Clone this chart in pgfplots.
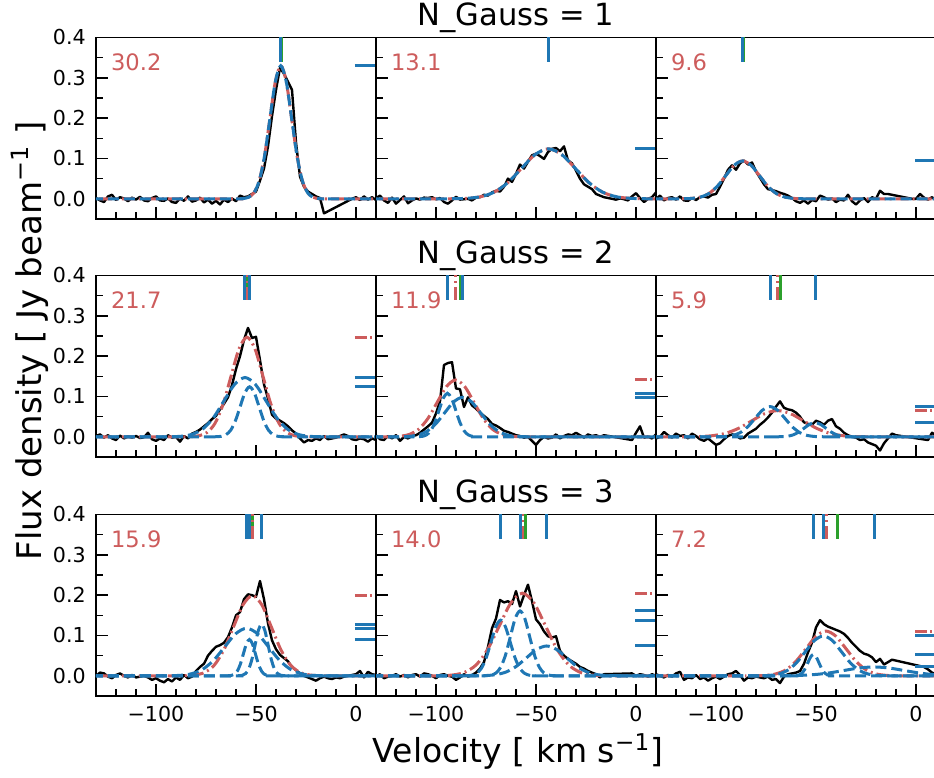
\documentclass[border=0pt]{standalone}
\usepackage{fontspec}
\setmainfont{DejaVu Sans}
\usepackage{pgfplots}
\pgfplotsset{compat=1.18}
\definecolor{tabblue}{HTML}{1F77B4}
\definecolor{indred}{HTML}{CD5C5C}
\definecolor{tabgreen}{HTML}{2CA02C}

\pgfplotsset{
  panel/.style={
    scale only axis, width=140pt, height=90.75pt, anchor=north west,
    xmin=-130, xmax=10, ymin=-0.05, ymax=0.4,
    axis line style={line width=0.9pt},
    xtick={-100,-50,0}, ytick={0,0.1,0.2,0.3,0.4},
    minor xtick={-120,-110,...,10}, minor ytick={-0.05,0.05,0.15,0.25,0.35},
    xtick pos=bottom, ytick pos=left, tick align=inside,
    major tick length=6pt, minor tick length=3.5pt,
    every tick/.style={black, line width=0.8pt},
    xticklabels={}, yticklabels={},
    tick label style={font=\fontsize{10.3}{12}\selectfont},
    xticklabel shift=1.6pt, yticklabel shift=1.6pt,
  },
  xlab/.style={xticklabels={−100,−50,0}},
  ylab/.style={yticklabels={0.0,0.1,0.2,0.3,0.4}},
  spec/.style={black, line width=1.2pt, mark=none, line join=round},
  tot/.style={indred, line width=1.5pt, mark=none, smooth, dash pattern=on 6.5pt off 2pt on 1pt off 2pt},
  comp/.style={tabblue, line width=1.5pt, mark=none, smooth, dash pattern=on 5.5pt off 2.5pt},
  vb/.style={tabblue, line width=1.5pt, mark=none, unbounded coords=jump},
  vr/.style={indred, line width=1.5pt, mark=none, unbounded coords=jump, dash pattern=on 6.5pt off 2pt on 1pt off 2pt},
  vg/.style={tabgreen, line width=1.5pt, mark=none, unbounded coords=jump},
  hb/.style={tabblue, line width=1.5pt, mark=none, unbounded coords=jump},
  hr/.style={indred, line width=1.5pt, mark=none, unbounded coords=jump, dash pattern=on 6pt off 1.5pt on 1pt off 1.5pt},
}
\newcommand\snr[1]{\node[indred, anchor=west, inner sep=0pt, font=\fontsize{11.3}{13}\selectfont] at (rel axis cs:0.0525,0.863) {#1};}

\begin{document}
\begin{tikzpicture}
\clip (0,0) rectangle (467pt,389pt);

% ---------------- row 1 ----------------
\begin{axis}[panel, ylab, at={(48pt,370.25pt)}]
\addplot[spec] coordinates {(-130,0.002) (-128,-0.004) (-126,-0.008) (-124,0.006) (-122,0.010) (-120,-0.003) (-118,0.004) (-116,0.001) (-114,-0.006) (-112,0.003) (-110,-0.002) (-108,0.005) (-106,-0.004) (-104,-0.006) (-102,0.002) (-100,0.006) (-98,-0.004) (-96,-0.005) (-94,0.001) (-92,-0.008) (-90,-0.010) (-88,0.001) (-86,-0.005) (-84,0.006) (-82,-0.007) (-80,-0.004) (-78,0.003) (-76,-0.009) (-74,-0.002) (-72,-0.012) (-70,-0.005) (-68,-0.014) (-66,-0.002) (-64,-0.008) (-62,0.001) (-60,-0.006) (-58,0.008) (-56,0.004) (-54,0.006) (-52,0.012) (-50,0.018) (-48,0.045) (-46,0.075) (-44,0.13) (-42,0.205) (-40,0.27) (-38,0.325) (-36,0.31) (-34,0.29) (-32,0.27) (-30,0.14) (-28,0.055) (-26,0.03) (-24,0.018) (-22,0.012) (-20,0.006) (-18,0.002) (-16,-0.036) (-2,0.0) (0,0.004) (2,-0.003) (4,0.006) (6,-0.002) (8,0.004) (10,-0.003)};
\addplot[tot] coordinates {(-140,0) (-61.9,0) (-59.2,0) (-56.5,0.0007) (-53.8,0.0037) (-51.1,0.0145) (-48.4,0.0446) (-45.7,0.1072) (-43.0,0.2001) (-40.3,0.2912) (-37.6,0.33) (-34.9,0.2912) (-32.2,0.2001) (-29.5,0.1072) (-26.8,0.0446) (-24.1,0.0145) (-21.4,0.0037) (-18.7,0.0007) (-16.0,0) (-13.3,0) (40,0)};
\addplot[comp] coordinates {(-140,0) (-61.9,0) (-59.2,0) (-56.5,0.0007) (-53.8,0.0037) (-51.1,0.0145) (-48.4,0.0446) (-45.7,0.1072) (-43.0,0.2001) (-40.3,0.2912) (-37.6,0.33) (-34.9,0.2912) (-32.2,0.2001) (-29.5,0.1072) (-26.8,0.0446) (-24.1,0.0145) (-21.4,0.0037) (-18.7,0.0007) (-16.0,0) (-13.3,0) (40,0)};
\addplot[vg] coordinates {(-37.0,0.34) (-37.0,0.45)};
\addplot[vr] coordinates {(-37.6,0.34) (-37.6,0.45)};
\addplot[vb] coordinates {(-37.6,0.34) (-37.6,0.45)};
\addplot[hr] coordinates {(-0.5,0.33) (15,0.33)};
\addplot[hb] coordinates {(-0.5,0.33) (15,0.33)};
\snr{30.2}
\end{axis}

\begin{axis}[panel, at={(188pt,370.25pt)}]
\addplot[spec] coordinates {(-130,0.002) (-128,0.008) (-126,-0.004) (-124,-0.010) (-122,0.003) (-120,-0.012) (-118,-0.003) (-116,0.006) (-114,-0.011) (-112,-0.004) (-110,0.001) (-108,-0.002) (-106,0.003) (-104,0.002) (-102,0.004) (-100,-0.001) (-98,0.002) (-96,-0.008) (-94,-0.012) (-92,-0.004) (-90,0.005) (-88,-0.002) (-86,-0.001) (-84,0.000) (-82,-0.004) (-80,0.003) (-78,0.004) (-76,0.010) (-74,0.008) (-72,0.016) (-70,0.020) (-68,0.018) (-66,0.030) (-64,0.050) (-62,0.042) (-60,0.062) (-58,0.085) (-56,0.075) (-54,0.092) (-52,0.108) (-50,0.112) (-48,0.106) (-46,0.099) (-44,0.116) (-42,0.124) (-40,0.126) (-38,0.118) (-36,0.130) (-34,0.095) (-32,0.088) (-30,0.070) (-28,0.050) (-26,0.036) (-24,0.030) (-22,0.024) (-20,0.012) (-18,0.008) (-16,0.004) (-14,0.002) (-12,0.000) (-10,-0.002) (-8,0.001) (-6,-0.001) (-4,-0.004) (-2,0.006) (0,0.014) (2,0.002) (4,-0.008) (6,0.000) (8,0.004) (10,0.016)};
\addplot[tot] coordinates {(-140,0) (-104.55,0) (-97.8,0) (-91.05,0.0003) (-84.3,0.0014) (-77.55,0.0054) (-70.8,0.0168) (-64.05,0.0403) (-57.3,0.0752) (-50.55,0.1094) (-43.8,0.124) (-37.05,0.1094) (-30.3,0.0752) (-23.55,0.0403) (-16.8,0.0168) (-10.05,0.0054) (-3.3,0.0014) (3.45,0.0003) (10.2,0) (16.95,0) (40,0)};
\addplot[comp] coordinates {(-140,0) (-104.55,0) (-97.8,0) (-91.05,0.0003) (-84.3,0.0014) (-77.55,0.0054) (-70.8,0.0168) (-64.05,0.0403) (-57.3,0.0752) (-50.55,0.1094) (-43.8,0.124) (-37.05,0.1094) (-30.3,0.0752) (-23.55,0.0403) (-16.8,0.0168) (-10.05,0.0054) (-3.3,0.0014) (3.45,0.0003) (10.2,0) (16.95,0) (40,0)};
\addplot[vg] coordinates {(-43.8,0.34) (-43.8,0.45)};
\addplot[vr] coordinates {(-43.8,0.34) (-43.8,0.45)};
\addplot[vb] coordinates {(-43.8,0.34) (-43.8,0.45)};
\addplot[hr] coordinates {(-0.5,0.124) (15,0.124)};
\addplot[hb] coordinates {(-0.5,0.124) (15,0.124)};
\snr{13.1}
\end{axis}

\begin{axis}[panel, at={(328pt,370.25pt)}]
\addplot[spec] coordinates {(-130,0.000) (-128,0.008) (-126,-0.004) (-124,0.002) (-122,0.004) (-120,-0.002) (-118,0.006) (-116,-0.004) (-114,-0.005) (-112,0.002) (-110,-0.003) (-108,0.004) (-106,0.006) (-104,0.003) (-102,0.010) (-100,0.012) (-98,0.030) (-96,0.050) (-94,0.072) (-92,0.083) (-90,0.072) (-88,0.088) (-86,0.095) (-84,0.085) (-82,0.090) (-80,0.068) (-78,0.052) (-76,0.036) (-74,0.024) (-72,0.022) (-70,0.019) (-68,0.015) (-66,0.012) (-64,0.008) (-62,0.002) (-60,-0.006) (-58,-0.010) (-56,-0.004) (-54,-0.012) (-52,-0.003) (-50,-0.006) (-48,0.008) (-46,0.004) (-44,-0.002) (-42,0.001) (-40,-0.008) (-38,-0.002) (-36,-0.004) (-34,0.010) (-32,-0.006) (-30,-0.014) (-28,-0.004) (-26,0.002) (-24,-0.008) (-22,0.004) (-20,0.000) (-18,0.020) (-16,0.012) (-14,0.012) (-2,0.000) (0,0.000) (2,0.012) (4,0.003) (6,-0.002) (8,0.004) (10,-0.004)};
\addplot[tot] coordinates {(-140,0) (-124.95,0) (-120.7,0) (-116.45,0.0002) (-112.2,0.0010) (-107.95,0.0041) (-103.7,0.0127) (-99.45,0.0305) (-95.2,0.0570) (-90.95,0.0830) (-86.7,0.094) (-82.45,0.0830) (-78.2,0.0570) (-73.95,0.0305) (-69.7,0.0127) (-65.45,0.0041) (-61.2,0.0010) (-56.95,0.0002) (-52.7,0) (-48.45,0) (40,0)};
\addplot[comp] coordinates {(-140,0) (-124.95,0) (-120.7,0) (-116.45,0.0002) (-112.2,0.0010) (-107.95,0.0041) (-103.7,0.0127) (-99.45,0.0305) (-95.2,0.0570) (-90.95,0.0830) (-86.7,0.094) (-82.45,0.0830) (-78.2,0.0570) (-73.95,0.0305) (-69.7,0.0127) (-65.45,0.0041) (-61.2,0.0010) (-56.95,0.0002) (-52.7,0) (-48.45,0) (40,0)};
\addplot[vg] coordinates {(-86.1,0.34) (-86.1,0.45)};
\addplot[vr] coordinates {(-86.7,0.34) (-86.7,0.45)};
\addplot[vb] coordinates {(-86.7,0.34) (-86.7,0.45)};
\addplot[hr] coordinates {(-0.5,0.094) (15,0.094)};
\addplot[hb] coordinates {(-0.5,0.094) (15,0.094)};
\snr{9.6}
\end{axis}

% ---------------- row 2 ----------------
\begin{axis}[panel, ylab, at={(48pt,251.25pt)}]
\addplot[spec] coordinates {(-130,0.002) (-128,0.006) (-126,-0.002) (-124,0.004) (-122,-0.004) (-120,-0.008) (-118,0.003) (-116,-0.004) (-114,0.001) (-112,-0.002) (-110,0.002) (-108,-0.003) (-106,-0.001) (-104,0.010) (-102,-0.006) (-100,-0.010) (-98,-0.004) (-96,-0.008) (-94,0.004) (-92,-0.002) (-90,0.000) (-88,-0.012) (-86,0.002) (-84,-0.004) (-82,0.008) (-80,0.012) (-78,0.018) (-76,0.026) (-74,0.034) (-72,0.044) (-70,0.052) (-68,0.068) (-66,0.082) (-64,0.098) (-62,0.128) (-60,0.168) (-58,0.200) (-56,0.240) (-54,0.270) (-52,0.245) (-50,0.248) (-48,0.190) (-46,0.130) (-44,0.095) (-42,0.055) (-40,0.045) (-38,0.040) (-36,0.034) (-34,0.026) (-32,0.016) (-30,0.008) (-28,-0.004) (-26,-0.014) (-24,-0.008) (-22,-0.010) (-20,-0.004) (-18,-0.008) (-16,0.002) (-14,-0.006) (-12,-0.004) (-10,-0.002) (-8,0.002) (-6,0.006) (-4,0.002) (-2,-0.006) (0,-0.008) (2,-0.004) (4,-0.006) (6,-0.012) (8,-0.004) (10,-0.008)};
\addplot[tot] coordinates {(-140,0) (-90.5,0) (-86.5,0) (-82.5,0.0005) (-78.5,0.0027) (-74.5,0.0108) (-70.5,0.0334) (-66.5,0.0802) (-62.5,0.1498) (-58.5,0.2180) (-54.5,0.247) (-50.5,0.2180) (-46.5,0.1498) (-42.5,0.0802) (-38.5,0.0334) (-34.5,0.0108) (-30.5,0.0027) (-26.5,0.0005) (-22.5,0) (-18.5,0) (40,0)};
\addplot[comp] coordinates {(-140,0) (-102.75,0) (-97.5,0) (-92.25,0.0003) (-87,0.0016) (-81.75,0.0065) (-76.5,0.0199) (-71.25,0.0477) (-66,0.0892) (-60.75,0.1297) (-55.5,0.147) (-50.25,0.1297) (-45,0.0892) (-39.75,0.0477) (-34.5,0.0199) (-29.25,0.0065) (-24,0.0016) (-18.75,0.0003) (-13.5,0) (-8.25,0) (40,0)};
\addplot[comp] coordinates {(-140,0) (-74.35,0) (-72,0) (-69.65,0.0003) (-67.3,0.0014) (-64.95,0.0054) (-62.6,0.0168) (-60.25,0.0403) (-57.9,0.0752) (-55.55,0.1094) (-53.2,0.124) (-50.85,0.1094) (-48.5,0.0752) (-46.15,0.0403) (-43.8,0.0168) (-41.45,0.0054) (-39.1,0.0014) (-36.75,0.0003) (-34.4,0) (-32.05,0) (40,0)};
\addplot[vg] coordinates {(-54.3,0.34) (-54.3,0.45)};
\addplot[vr] coordinates {(-54.4,0.34) (-54.4,0.45)};
\addplot[vb] coordinates {(-55.6,0.34) (-55.6,0.45) (nan,nan) (-53.1,0.34) (-53.1,0.45)};
\addplot[hr] coordinates {(-0.5,0.247) (15,0.247)};
\addplot[hb] coordinates {(-0.5,0.147) (15,0.147) (nan,nan) (-0.5,0.124) (15,0.124)};
\snr{21.7}
\end{axis}

\begin{axis}[panel, at={(188pt,251.25pt)}]
\addplot[spec] coordinates {(-130,0.004) (-128,-0.006) (-126,-0.008) (-124,0.002) (-122,-0.004) (-120,0.004) (-118,-0.010) (-116,0.000) (-114,-0.004) (-112,0.002) (-110,0.004) (-108,0.010) (-106,0.018) (-104,0.026) (-102,0.035) (-100,0.058) (-98,0.088) (-96,0.178) (-94,0.183) (-92,0.185) (-90,0.120) (-88,0.118) (-86,0.074) (-84,0.098) (-82,0.078) (-80,0.070) (-78,0.060) (-76,0.052) (-74,0.044) (-72,0.032) (-70,0.028) (-68,0.022) (-66,0.015) (-64,0.012) (-62,0.008) (-60,0.004) (-58,0.002) (-56,-0.002) (-54,0.000) (-52,-0.010) (-50,-0.020) (-48,-0.008) (-46,0.000) (-44,-0.004) (-42,-0.002) (-40,0.006) (-38,-0.004) (-36,0.002) (-34,0.006) (-32,0.004) (-30,0.010) (-28,0.004) (-26,-0.002) (-24,0.006) (-22,0.002) (-20,0.004) (-18,0.000) (-16,0.004) (-2,-0.008) (0,0.010) (2,0.026) (4,-0.002) (6,0.000) (8,-0.004) (10,0.006)};
\addplot[tot] coordinates {(-140,0) (-131.6,0) (-127,0) (-122.4,0.0003) (-117.8,0.0016) (-113.2,0.0062) (-108.6,0.0191) (-104,0.0458) (-99.4,0.0855) (-94.8,0.1244) (-90.2,0.141) (-85.6,0.1244) (-81,0.0855) (-76.4,0.0458) (-71.8,0.0191) (-67.2,0.0062) (-62.6,0.0016) (-58,0.0003) (-53.4,0) (-48.8,0) (40,0)};
\addplot[comp] coordinates {(-140,0) (-113.2,0) (-111.1,0) (-109.0,0.0002) (-106.9,0.0012) (-104.8,0.0047) (-102.7,0.0146) (-100.6,0.0351) (-98.5,0.0655) (-96.4,0.0953) (-94.3,0.108) (-92.2,0.0953) (-90.1,0.0655) (-88.0,0.0351) (-85.9,0.0146) (-83.8,0.0047) (-81.7,0.0012) (-79.6,0.0002) (-77.5,0) (-75.4,0) (40,0)};
\addplot[comp] coordinates {(-140,0) (-127.2,0) (-122.7,0) (-118.2,0.0002) (-113.7,0.0011) (-109.2,0.0043) (-104.7,0.0133) (-100.2,0.0318) (-95.7,0.0594) (-91.2,0.0865) (-86.7,0.098) (-82.2,0.0865) (-77.7,0.0594) (-73.2,0.0318) (-68.7,0.0133) (-64.2,0.0043) (-59.7,0.0011) (-55.2,0.0002) (-50.7,0) (-46.2,0) (40,0)};
\addplot[vg] coordinates {(-88.0,0.34) (-88.0,0.45)};
\addplot[vr] coordinates {(-90.2,0.34) (-90.2,0.45)};
\addplot[vb] coordinates {(-94.3,0.34) (-94.3,0.45) (nan,nan) (-86.7,0.34) (-86.7,0.45)};
\addplot[hr] coordinates {(-0.5,0.141) (15,0.141)};
\addplot[hb] coordinates {(-0.5,0.108) (15,0.108) (nan,nan) (-0.5,0.098) (15,0.098)};
\snr{11.9}
\end{axis}

\begin{axis}[panel, at={(328pt,251.25pt)}]
\addplot[spec] coordinates {(-130,-0.004) (-128,0.000) (-126,0.012) (-124,0.004) (-122,-0.002) (-120,0.008) (-118,0.002) (-116,0.004) (-114,-0.004) (-112,0.008) (-110,0.002) (-108,-0.006) (-106,-0.010) (-104,-0.004) (-102,-0.012) (-100,-0.020) (-98,-0.016) (-96,-0.006) (-94,0.002) (-92,0.006) (-90,0.004) (-88,-0.004) (-86,-0.002) (-84,0.008) (-82,0.014) (-80,0.020) (-78,0.030) (-76,0.038) (-74,0.048) (-72,0.060) (-70,0.075) (-68,0.088) (-66,0.072) (-64,0.068) (-62,0.066) (-60,0.060) (-58,0.050) (-56,0.036) (-54,0.032) (-52,0.030) (-50,0.040) (-48,0.036) (-46,0.030) (-44,0.040) (-42,0.044) (-40,0.026) (-38,0.020) (-36,0.010) (-34,0.004) (-32,0.000) (-30,-0.002) (-28,-0.008) (-26,-0.006) (-24,-0.014) (-22,-0.018) (-20,-0.022) (-18,-0.034) (-16,-0.016) (-14,-0.004) (-12,0.008) (-10,0.004) (6,-0.008) (8,0.010) (10,0.004)};
\addplot[tot] coordinates {(-140,0) (-127.7,0) (-121.2,0) (-114.7,0.0001) (-108.2,0.0007) (-101.7,0.0029) (-95.2,0.0088) (-88.7,0.0211) (-82.2,0.0394) (-75.7,0.0574) (-69.2,0.065) (-62.7,0.0574) (-56.2,0.0394) (-49.7,0.0211) (-43.2,0.0088) (-36.7,0.0029) (-30.2,0.0007) (-23.7,0.0001) (-17.2,0) (-10.7,0) (40,0)};
\addplot[comp] coordinates {(-140,0) (-106.75,0) (-103,0) (-99.25,0.0002) (-95.5,0.0008) (-91.75,0.0033) (-88,0.0101) (-84.25,0.0244) (-80.5,0.0455) (-76.75,0.0662) (-73,0.075) (-69.25,0.0662) (-65.5,0.0455) (-61.75,0.0244) (-58,0.0101) (-54.25,0.0033) (-50.5,0.0008) (-46.75,0.0002) (-43,0) (-39.25,0) (40,0)};
\addplot[comp] coordinates {(-140,0) (-75.25,0) (-72.5,0) (-69.75,0.0001) (-67,0.0004) (-64.25,0.0015) (-61.5,0.0047) (-58.75,0.0114) (-56,0.0212) (-53.25,0.0309) (-50.5,0.035) (-47.75,0.0309) (-45,0.0212) (-42.25,0.0114) (-39.5,0.0047) (-36.75,0.0015) (-34,0.0004) (-31.25,0.0001) (-28.5,0) (-25.75,0) (40,0)};
\addplot[vg] coordinates {(-68.0,0.34) (-68.0,0.45)};
\addplot[vr] coordinates {(-69.2,0.34) (-69.2,0.45)};
\addplot[vb] coordinates {(-73.0,0.34) (-73.0,0.45) (nan,nan) (-50.5,0.34) (-50.5,0.45)};
\addplot[hr] coordinates {(-0.5,0.065) (15,0.065)};
\addplot[hb] coordinates {(-0.5,0.075) (15,0.075) (nan,nan) (-0.5,0.035) (15,0.035)};
\snr{5.9}
\end{axis}

% ---------------- row 3 ----------------
\begin{axis}[panel, ylab, xlab, at={(48pt,131.75pt)}]
\addplot[spec] coordinates {(-130,0.000) (-128,0.008) (-126,0.006) (-124,-0.002) (-122,-0.006) (-120,0.002) (-118,0.006) (-116,0.000) (-114,-0.004) (-112,0.002) (-110,-0.004) (-108,-0.002) (-106,0.000) (-104,-0.004) (-102,-0.010) (-100,-0.006) (-98,-0.012) (-96,-0.016) (-94,-0.008) (-92,-0.014) (-90,-0.004) (-88,-0.010) (-86,0.002) (-84,-0.006) (-82,-0.002) (-80,0.012) (-78,0.022) (-76,0.030) (-74,0.050) (-72,0.062) (-70,0.072) (-68,0.076) (-66,0.082) (-64,0.096) (-62,0.120) (-60,0.150) (-58,0.158) (-56,0.190) (-54,0.202) (-52,0.200) (-50,0.196) (-48,0.235) (-46,0.190) (-44,0.130) (-42,0.088) (-40,0.066) (-38,0.052) (-36,0.044) (-34,0.036) (-32,0.022) (-30,0.014) (-28,0.006) (-26,0.000) (-24,-0.004) (-22,-0.008) (-20,-0.012) (-18,-0.006) (-16,-0.002) (-14,-0.006) (-12,-0.008) (-10,-0.004) (-8,-0.006) (-6,-0.002) (-4,0.000) (-2,0.002) (0,0.004) (2,0.012) (4,-0.004) (6,0.010) (8,0.004) (10,0.002)};
\addplot[tot] coordinates {(-140,0) (-94.55,0) (-89.8,0) (-85.05,0.0004) (-80.3,0.0022) (-75.55,0.0087) (-70.8,0.0269) (-66.05,0.0646) (-61.3,0.1207) (-56.55,0.1756) (-51.8,0.199) (-47.05,0.1756) (-42.3,0.1207) (-37.55,0.0646) (-32.8,0.0269) (-28.05,0.0087) (-23.3,0.0022) (-18.55,0.0004) (-13.8,0) (-9.05,0) (40,0)};
\addplot[comp] coordinates {(-140,0) (-104.2,0) (-98.7,0) (-93.2,0.0003) (-87.7,0.0013) (-82.2,0.0052) (-76.7,0.0160) (-71.2,0.0383) (-65.7,0.0716) (-60.2,0.1041) (-54.7,0.118) (-49.2,0.1041) (-43.7,0.0716) (-38.2,0.0383) (-32.7,0.0160) (-27.2,0.0052) (-21.7,0.0013) (-16.2,0.0003) (-10.7,0) (-5.2,0) (40,0)};
\addplot[comp] coordinates {(-140,0) (-66.8,0) (-65.3,0) (-63.8,0.0002) (-62.3,0.0010) (-60.8,0.0040) (-59.3,0.0122) (-57.8,0.0292) (-56.3,0.0546) (-54.8,0.0794) (-53.3,0.09) (-51.8,0.0794) (-50.3,0.0546) (-48.8,0.0292) (-47.3,0.0122) (-45.8,0.0040) (-44.3,0.0010) (-42.8,0.0002) (-41.3,0) (-39.8,0) (40,0)};
\addplot[comp] coordinates {(-140,0) (-61.6,0) (-60.0,0) (-58.4,0.0003) (-56.8,0.0014) (-55.2,0.0056) (-53.6,0.0173) (-52.0,0.0416) (-50.4,0.0776) (-48.8,0.1130) (-47.2,0.128) (-45.6,0.1130) (-44.0,0.0776) (-42.4,0.0416) (-40.8,0.0173) (-39.2,0.0056) (-37.6,0.0014) (-36.0,0.0003) (-34.4,0) (-32.8,0) (40,0)};
\addplot[vg] coordinates {(-51.6,0.34) (-51.6,0.45)};
\addplot[vr] coordinates {(-51.8,0.34) (-51.8,0.45)};
\addplot[vb] coordinates {(-54.7,0.34) (-54.7,0.45) (nan,nan) (-53.3,0.34) (-53.3,0.45) (nan,nan) (-47.2,0.34) (-47.2,0.45)};
\addplot[hr] coordinates {(-0.5,0.199) (15,0.199)};
\addplot[hb] coordinates {(-0.5,0.128) (15,0.128) (nan,nan) (-0.5,0.118) (15,0.118) (nan,nan) (-0.5,0.09) (15,0.09)};
\snr{15.9}
\end{axis}

\begin{axis}[panel, xlab, at={(188pt,131.75pt)}]
\addplot[spec] coordinates {(-130,-0.002) (-128,0.004) (-126,-0.006) (-124,-0.002) (-122,0.000) (-120,0.004) (-118,-0.002) (-116,0.002) (-114,-0.004) (-112,0.002) (-110,0.004) (-108,-0.002) (-106,0.006) (-104,0.004) (-102,0.000) (-100,-0.006) (-98,0.002) (-96,0.004) (-94,0.000) (-92,-0.002) (-90,-0.010) (-88,-0.004) (-86,0.004) (-84,-0.002) (-82,0.002) (-80,0.008) (-78,0.018) (-76,0.034) (-74,0.072) (-72,0.118) (-70,0.142) (-68,0.188) (-66,0.182) (-64,0.185) (-62,0.178) (-60,0.210) (-58,0.172) (-56,0.200) (-54,0.226) (-52,0.185) (-50,0.140) (-48,0.128) (-46,0.110) (-44,0.098) (-42,0.095) (-40,0.098) (-38,0.062) (-36,0.050) (-34,0.042) (-32,0.036) (-30,0.030) (-28,0.022) (-26,0.018) (-24,0.012) (-22,0.008) (-20,0.004) (-18,-0.004) (-16,0.004) (-2,0.006) (0,0.000) (2,0.004) (4,0.002) (6,-0.002) (8,0.004) (10,0.000)};
\addplot[tot] coordinates {(-140,0) (-108.55,0) (-102.8,0) (-97.05,0.0005) (-91.3,0.0023) (-85.55,0.0090) (-79.8,0.0277) (-74.05,0.0666) (-68.3,0.1243) (-62.55,0.1809) (-56.8,0.205) (-51.05,0.1809) (-45.3,0.1243) (-39.55,0.0666) (-33.8,0.0277) (-28.05,0.0090) (-22.3,0.0023) (-16.55,0.0005) (-10.8,0) (-5.05,0) (40,0)};
\addplot[comp] coordinates {(-140,0) (-89.3,0) (-86.9,0) (-84.5,0.0003) (-82.1,0.0015) (-79.7,0.0061) (-77.3,0.0187) (-74.9,0.0448) (-72.5,0.0837) (-70.1,0.1218) (-67.7,0.138) (-65.3,0.1218) (-62.9,0.0837) (-60.5,0.0448) (-58.1,0.0187) (-55.7,0.0061) (-53.3,0.0015) (-50.9,0.0003) (-48.5,0) (-46.1,0) (40,0)};
\addplot[comp] coordinates {(-140,0) (-79.6,0) (-77.2,0) (-74.8,0.0004) (-72.4,0.0018) (-70,0.0071) (-67.6,0.0218) (-65.2,0.0523) (-62.8,0.0976) (-60.4,0.1421) (-58,0.161) (-55.6,0.1421) (-53.2,0.0976) (-50.8,0.0523) (-48.4,0.0218) (-46,0.0071) (-43.6,0.0018) (-41.2,0.0004) (-38.8,0) (-36.4,0) (40,0)};
\addplot[comp] coordinates {(-140,0) (-89.7,0) (-84.7,0) (-79.7,0.0002) (-74.7,0.0008) (-69.7,0.0032) (-64.7,0.0100) (-59.7,0.0240) (-54.7,0.0449) (-49.7,0.0653) (-44.7,0.074) (-39.7,0.0653) (-34.7,0.0449) (-29.7,0.0240) (-24.7,0.0100) (-19.7,0.0032) (-14.7,0.0008) (-9.7,0.0002) (-4.7,0) (0.3,0) (40,0)};
\addplot[vg] coordinates {(-55.5,0.34) (-55.5,0.45)};
\addplot[vr] coordinates {(-56.8,0.34) (-56.8,0.45)};
\addplot[vb] coordinates {(-67.7,0.34) (-67.7,0.45) (nan,nan) (-58.0,0.34) (-58.0,0.45) (nan,nan) (-44.7,0.34) (-44.7,0.45)};
\addplot[hr] coordinates {(-0.5,0.205) (15,0.205)};
\addplot[hb] coordinates {(-0.5,0.161) (15,0.161) (nan,nan) (-0.5,0.138) (15,0.138) (nan,nan) (-0.5,0.074) (15,0.074)};
\snr{14.0}
\end{axis}

\begin{axis}[panel, xlab, at={(328pt,131.75pt)}]
\addplot[spec] coordinates {(-130,0.004) (-128,0.000) (-126,-0.004) (-124,0.002) (-122,-0.002) (-120,0.006) (-118,0.010) (-116,-0.010) (-114,-0.004) (-112,-0.006) (-110,0.002) (-108,-0.008) (-106,-0.004) (-104,-0.012) (-102,-0.006) (-100,-0.002) (-98,-0.008) (-96,-0.002) (-94,0.004) (-92,0.006) (-90,0.012) (-88,0.002) (-86,-0.012) (-84,-0.004) (-82,-0.006) (-80,-0.002) (-78,-0.004) (-76,-0.006) (-74,-0.002) (-72,-0.010) (-70,-0.008) (-68,-0.018) (-66,-0.002) (-64,0.004) (-62,0.006) (-60,0.008) (-58,0.012) (-56,0.030) (-54,0.058) (-52,0.082) (-50,0.120) (-48,0.138) (-46,0.128) (-44,0.122) (-42,0.118) (-40,0.114) (-38,0.110) (-36,0.104) (-34,0.094) (-32,0.082) (-30,0.072) (-28,0.062) (-26,0.055) (-24,0.052) (-22,0.046) (-20,0.034) (-18,0.042) (-16,0.028) (-14,0.034) (-12,0.040) (4,0.022) (6,0.016) (8,0.008) (10,0.004)};
\addplot[tot] coordinates {(-140,0) (-90,0) (-85,0) (-80,0.0002) (-75,0.0012) (-70,0.0049) (-65,0.0150) (-60,0.0360) (-55,0.0673) (-50,0.0980) (-45,0.111) (-40,0.0980) (-35,0.0673) (-30,0.0360) (-25,0.0150) (-20,0.0049) (-15,0.0012) (-10,0.0002) (-5,0) (0,0) (40,0)};
\addplot[comp] coordinates {(-140,0) (-63.9,0) (-62.5,0) (-61.1,0.0001) (-59.7,0.0006) (-58.3,0.0023) (-56.9,0.0072) (-55.5,0.0172) (-54.1,0.0321) (-52.7,0.0468) (-51.3,0.053) (-49.9,0.0468) (-48.5,0.0321) (-47.1,0.0172) (-45.7,0.0072) (-44.3,0.0023) (-42.9,0.0006) (-41.5,0.0001) (-40.1,0) (-38.7,0) (40,0)};
\addplot[comp] coordinates {(-140,0) (-86.8,0) (-82.3,0) (-77.8,0.0002) (-73.3,0.0011) (-68.8,0.0043) (-64.3,0.0134) (-59.8,0.0321) (-55.3,0.0600) (-50.8,0.0874) (-46.3,0.099) (-41.8,0.0874) (-37.3,0.0600) (-32.8,0.0321) (-28.3,0.0134) (-23.8,0.0043) (-19.3,0.0011) (-14.8,0.0002) (-10.3,0) (-5.8,0) (40,0)};
\addplot[comp] coordinates {(-140,0) (-88.5,0) (-81,0) (-73.5,0.00005) (-66,0.0002) (-58.5,0.0010) (-51,0.0030) (-43.5,0.0071) (-36,0.0133) (-28.5,0.0194) (-21,0.022) (-13.5,0.0194) (-6,0.0133) (1.5,0.0071) (9,0.0030) (16.5,0.0010) (24,0.0002) (31.5,0.00005) (39,0) (46.5,0)};
\addplot[vg] coordinates {(-39.3,0.34) (-39.3,0.45)};
\addplot[vr] coordinates {(-45.0,0.34) (-45.0,0.45)};
\addplot[vb] coordinates {(-51.3,0.34) (-51.3,0.45) (nan,nan) (-46.3,0.34) (-46.3,0.45) (nan,nan) (-21.0,0.34) (-21.0,0.45)};
\addplot[hr] coordinates {(-0.5,0.111) (15,0.111)};
\addplot[hb] coordinates {(-0.5,0.099) (15,0.099) (nan,nan) (-0.5,0.053) (15,0.053) (nan,nan) (-0.5,0.022) (15,0.022)};
\snr{7.2}
\end{axis}

% ---------------- titles and labels ----------------
\node[anchor=base, font=\fontsize{15.3}{18}\selectfont] at (258pt,376pt) {N\_Gauss = 1};
\node[anchor=base, font=\fontsize{15.3}{18}\selectfont] at (258pt,257pt) {N\_Gauss = 2};
\node[anchor=base, font=\fontsize{15.3}{18}\selectfont] at (258pt,137.5pt) {N\_Gauss = 3};
\node[rotate=90, anchor=center, font=\fontsize{17}{20}\selectfont] at (15pt,218.5pt) {Flux density [ Jy beam\textsuperscript{−1} ]};
\node[anchor=base, font=\fontsize{16.5}{20}\selectfont] at (259pt,7.5pt) {Velocity [ km s\textsuperscript{−1}]};
\end{tikzpicture}
\end{document}
